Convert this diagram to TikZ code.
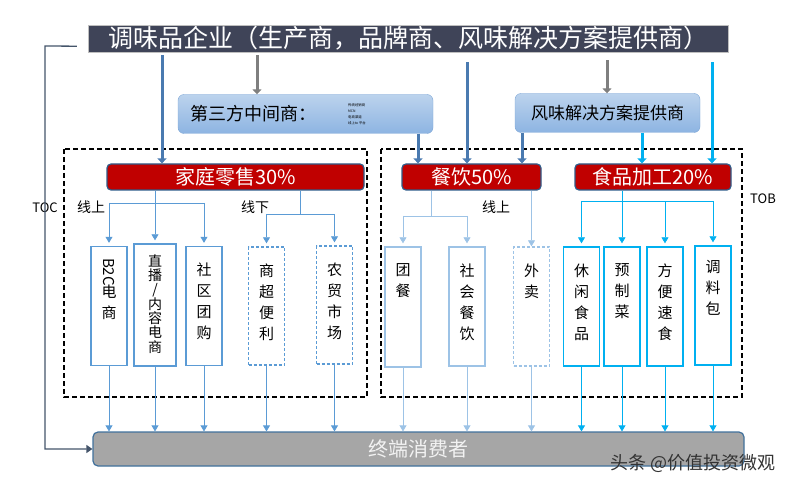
\documentclass[tikz,border=0pt]{standalone}
\usepackage{fontspec}
\setmainfont{Noto Sans CJK SC}
\usetikzlibrary{arrows.meta}

\definecolor{barcol}{HTML}{3F4458}
\definecolor{boxedge}{HTML}{7FA7D6}
\definecolor{boxtop}{HTML}{BCD3ED}
\definecolor{boxbot}{HTML}{8DB4E2}
\definecolor{redfill}{HTML}{C00000}
\definecolor{rededge}{HTML}{2E5C8A}
\definecolor{midblue}{HTML}{5B9BD5}
\definecolor{lightblue}{HTML}{9DC3E6}
\definecolor{cyanc}{HTML}{00B0F0}
\definecolor{steel}{HTML}{4A7AB0}
\definecolor{grayarr}{HTML}{7F7F7F}
\definecolor{consfill}{HTML}{A6A6A6}
\definecolor{consedge}{HTML}{41719C}
\definecolor{tocline}{HTML}{44546A}

\tikzset{
  topbar/.style={fill=barcol, draw=gray!50, minimum width=640pt, minimum height=27pt,
    text=white, font=\fontsize{25}{25}\selectfont},
  midbox/.style={rounded corners=6pt, draw=boxedge, top color=boxtop, bottom color=boxbot,
    minimum height=39pt},
  redbox/.style={rounded corners=4pt, draw=rededge, line width=1.2pt, fill=redfill,
    text=white, minimum height=26pt, font=\fontsize{20}{20}\selectfont},
  subbox/.style={draw=#1, line width=1.4pt, minimum width=36pt, minimum height=119pt},
  dashsub/.style={subbox=#1, dash pattern=on 3pt off 2pt},
  vt/.style={anchor=north, align=center, font=\fontsize{15}{21}\selectfont},
  tiny/.style={anchor=west, font=\fontsize{3.4}{3.4}\selectfont},
  link/.style={draw=#1, line width=0.7pt, -{Triangle[width=7pt,length=6pt]}},
  fat/.style={draw=#1, line width=3pt, -{Triangle[width=9pt,length=5pt]}},
  grpframe/.style={line width=1.3pt, dash pattern=on 5pt off 3pt},
  lbl/.style={font=\fontsize{14}{14}\selectfont},
}

\begin{document}
\begin{tikzpicture}[x=1pt,y=-1pt,every node/.style={inner sep=0pt}]
  \useasboundingbox (0,0) rectangle (806,489);

  % groups
  \draw[grpframe] (64,149) rectangle (367,397);
  \draw[grpframe] (381,149) rectangle (742,397);

  % top level
  \node[topbar] (top) at (408,38.5) {调味品企业（生产商，品牌商、风味解决方案提供商）};
  \node[midbox, minimum width=255pt] (mid) at (305.5,114) {};
  \node[anchor=west, font=\fontsize{18}{18}\selectfont] (midtxt) at ([xshift=12pt]mid.west) {第三方中间商：};
  \node[tiny] (t1) at (348,105) {传统经销商};
  \node[tiny] (t2) at (348,111) {MCN};
  \node[tiny] (t3) at (348,117) {电商渠道};
  \node[tiny] (t4) at (348,123) {线上to 平台};
  \node[midbox, minimum width=185pt, font=\fontsize{17}{17}\selectfont] (flav) at (607.5,113) {风味解决方案提供商};

  \node[redbox, minimum width=257pt] (home) at (235.5,177) {家庭零售30\%};
  \node[redbox, minimum width=139pt] (food) at (471.5,177) {餐饮50\%};
  \node[redbox, minimum width=156pt] (proc) at (653,177) {食品加工20\%};

  \node[draw=consedge, line width=1.2pt, fill=consfill, rounded corners=5pt, minimum width=651pt,
    minimum height=34pt, text=white!95!black, font=\fontsize{20}{20}\selectfont] (cons) at (418.5,449) {终端消费者};

  % channels
  \node[subbox=midblue] (b2c) at (109,306) {};
  \node[subbox=midblue, minimum width=42pt, minimum height=122pt] (live) at (155,305) {};
  \node[subbox=midblue] (group) at (204,306) {};
  \node[dashsub=midblue, minimum height=118pt] (super) at (266.5,306) {};
  \node[dashsub=midblue, minimum height=118pt] (market) at (334.5,305) {};
  \node[subbox=lightblue, minimum height=120pt] (tuan) at (403,307) {};
  \node[subbox=lightblue] (social) at (467,306.5) {};
  \node[dashsub=lightblue] (takeout) at (531.5,306.5) {};
  \node[subbox=cyanc] (snack) at (581.5,306.5) {};
  \node[subbox=cyanc] (prep) at (622,306.5) {};
  \node[subbox=cyanc] (instant) at (665,306.5) {};
  \node[subbox=cyanc] (season) at (713,305.5) {};

  \node[vt] at ([yshift=-12pt]b2c.north) {\rotatebox{-90}{B2C}\\[-2pt]电\\商};
  \node[vt, font=\fontsize{14}{14.3}\selectfont] at ([yshift=-11pt]live.north) {直\\播\\/\\内\\容\\电\\商};
  \node[vt] at ([yshift=-17pt]group.north) {社\\区\\团\\购};
  \node[vt] at ([yshift=-17pt]super.north) {商\\超\\便\\利};
  \node[vt] at ([yshift=-17pt]market.north) {农\\贸\\市\\场};
  \node[vt] at ([yshift=-17pt]tuan.north) {团\\餐};
  \node[vt] at ([yshift=-17pt]social.north) {社\\会\\餐\\饮};
  \node[vt] at ([yshift=-17pt]takeout.north) {外\\卖};
  \node[vt] at ([yshift=-17pt]snack.north) {休\\闲\\食\\品};
  \node[vt] at ([yshift=-17pt]prep.north) {预\\制\\菜};
  \node[vt] at ([yshift=-17pt]instant.north) {方\\便\\速\\食};
  \node[vt] at ([yshift=-15pt]season.north) {调\\料\\包};

  % side labels
  \node[fill=white, inner sep=1pt, font=\fontsize{13}{13}\selectfont] (toc) at (45,208) {TOC};
  \node[font=\fontsize{13}{13}\selectfont] (tob) at (763,199) {TOB};
  \node[lbl] (on1) at (91,207) {线上};
  \node[lbl] (off1) at (255,207) {线下};
  \node[lbl] (on2) at (496,207) {线上};

  % arrows from the top
  \coordinate (s1) at (162,0);
  \coordinate (s2) at (257,0);
  \coordinate (s3) at (467,0);
  \coordinate (s4) at (607,0);
  \coordinate (s5) at (712,0);
  \coordinate (s6) at (418,0);
  \coordinate (s7) at (522,0);
  \coordinate (s8) at (642,0);
  \draw[fat=steel, shorten <=3pt] (top.south -| s1) -- (home.north -| s1);
  \draw[fat=grayarr, shorten <=3pt] (top.south -| s2) -- (mid.north -| s2);
  \draw[fat=steel, shorten <=10pt] (top.south -| s3) -- (food.north -| s3);
  \draw[fat=grayarr, shorten <=8pt] (top.south -| s4) -- (flav.north -| s4);
  \draw[fat=cyanc, shorten <=10pt] (top.south -| s5) -- (proc.north -| s5);
  \draw[fat=steel] (mid.south -| s6) -- (food.north -| s6);
  \draw[fat=steel] (flav.south -| s7) -- (food.north -| s7);
  \draw[fat=cyanc] (flav.south -| s8) -- (proc.north -| s8);

  % TOC line
  \coordinate (tocc) at (45,46);
  \draw[tocline, line width=1.3pt, -{Triangle[width=8pt,length=6pt]}]
    ([xshift=-11pt,yshift=6pt]top.south west) -- (tocc) |- (cons.west);

  % home retail branches
  \coordinate (onL) at (0,203);
  \coordinate (offL) at (300,214);
  \draw[link=midblue, shorten >=3pt] (home.south -| live.north) -- (live.north);
  \draw[midblue, line width=0.7pt] (b2c.north |- onL) -- (group.north |- onL);
  \foreach \n in {b2c,group}
    \draw[link=midblue, shorten >=3pt] (\n.north |- onL) -- (\n.north);
  \draw[midblue, line width=0.7pt] (home.south -| offL) -- (offL);
  \draw[midblue, line width=0.7pt] (super.north |- offL) -- (market.north |- offL);
  \foreach \n in {super,market}
    \draw[link=midblue, shorten >=3pt] (\n.north |- offL) -- (\n.north);

  % catering branches
  \coordinate (cat) at (431,216);
  \draw[lightblue, line width=0.7pt] (food.south -| cat) -- (cat);
  \draw[lightblue, line width=0.7pt] (tuan.north |- cat) -- (social.north |- cat);
  \foreach \n in {tuan,social}
    \draw[link=lightblue, shorten >=3pt] (\n.north |- cat) -- (\n.north);
  \draw[link=lightblue] (food.south -| takeout.north) -- (takeout.north);

  % processing branches
  \coordinate (pro) at (0,201);
  \draw[link=cyanc, shorten >=3pt] (proc.south -| prep.north) -- (prep.north);
  \draw[cyanc, line width=0.7pt] (snack.north |- pro) -- (season.north |- pro);
  \foreach \n in {snack,instant,season}
    \draw[link=cyanc, shorten >=3pt] (\n.north |- pro) -- (\n.north);

  % to the consumer
  \foreach \n in {b2c,live,group,super,market}
    \draw[link=midblue] (\n.south) -- (\n.south |- cons.north);
  \foreach \n in {tuan,social,takeout}
    \draw[link=lightblue] (\n.south) -- (\n.south |- cons.north);
  \foreach \n in {snack,prep,instant,season}
    \draw[link=cyanc] (\n.south) -- (\n.south |- cons.north);

  \node[text=black!80, font=\fontsize{18}{18}\selectfont] (mark) at (693,463) {头条 @价值投资微观};
\end{tikzpicture}
\end{document}
